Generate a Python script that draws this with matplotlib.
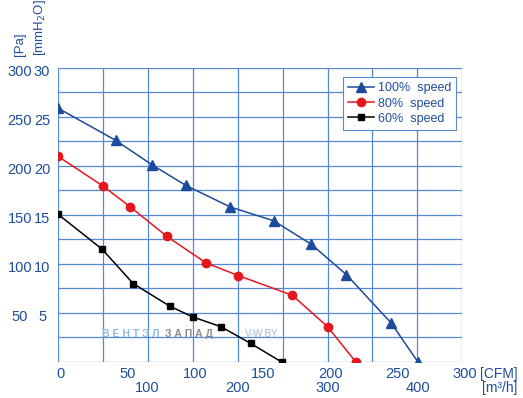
import matplotlib
matplotlib.use('Agg')
import matplotlib.pyplot as plt
from matplotlib.transforms import blended_transform_factory

plt.rcParams['font.family'] = ['Liberation Sans', 'DejaVu Sans']

# flow in CFM, static pressure in Pa
cfm_100 = [0, 43, 70, 95, 128, 160, 188, 214, 247, 267]
pa_100 = [259, 226, 201, 180, 158, 144, 120, 89, 40, 0]

cfm_80 = [0, 34, 54, 81, 110, 134, 174, 200, 221]
pa_80 = [210, 179, 158, 128, 101, 88, 68, 36, 0]

cfm_60 = [0, 33, 56, 83, 100, 121, 143, 166]
pa_60 = [151, 115, 80, 57, 46, 36, 19, 0]

cfm_ticks = [0, 50, 100, 150, 200, 250, 300]
m3h_ticks = ['100', '200', '300', '400']
m3h_grid_pos = [66.7, 133.3, 200.0, 266.7]   # sits on every second grid line
pa_ticks = [50, 100, 150, 200, 250, 300]
mm_ticks = ['5', '10', '15', '20', '25', '30']

BLUE_TXT = '#1f4e9e'
GRID = '#5589d3'

fig = plt.figure(figsize=(5.23, 3.98), dpi=100)
ax = fig.add_axes([0.110, 0.0905, 0.7743, 0.7394])
ax.set_xlim(0, 300)
ax.set_ylim(0, 300)

for i in range(10):
    ax.axvline(i * 300 / 9, color=GRID, lw=0.9, zorder=1)
for i in range(13):
    ax.axhline(i * 25, color=GRID, lw=0.9, zorder=1)
for s in ax.spines.values():
    s.set_visible(False)
ax.set_xticks([])
ax.set_yticks([])

# watermark
ax.text(0.109, 0.095, 'В Е Н Т Э Л', transform=ax.transAxes, color='#8db8e3',
        fontsize=7.5, fontweight='bold', va='center', ha='left', zorder=2)
ax.text(0.265, 0.095, 'З А П А Д', transform=ax.transAxes, color='#8c8c8c',
        fontsize=7.5, fontweight='bold', va='center', ha='left', zorder=2)
ax.text(0.462, 0.095, 'V-W.BY', transform=ax.transAxes, color='#a0b8d8',
        fontsize=7, va='center', ha='left', zorder=2)

ax.plot(cfm_100, pa_100, color='#1c4a9c', lw=1.1, marker='^', ms=6.5,
        label='100%  speed', zorder=5, clip_on=True)
ax.plot(cfm_80, pa_80, color='#e5161e', lw=1.1, marker='o', ms=6,
        label='80%  speed', zorder=5, clip_on=True)
ax.plot(cfm_60, pa_60, color='black', lw=1.1, marker='s', ms=5,
        label='60%  speed', zorder=5, clip_on=True)

leg = ax.legend(loc='upper left', bbox_to_anchor=(0.704, 0.967), fontsize=9,
                frameon=True, fancybox=False, edgecolor=GRID, framealpha=1,
                handlelength=2.1, handletextpad=0.3, labelspacing=0.25,
                borderpad=0.4, borderaxespad=0)
leg.get_frame().set_linewidth(0.8)
for t in leg.get_texts():
    t.set_color(BLUE_TXT)

# x tick labels, two rows
xt = blended_transform_factory(ax.transData, ax.transAxes)
for v in cfm_ticks:
    ax.text(v + 2, -0.04, str(v), transform=xt, ha='center', va='center',
            fontsize=10.5, color=BLUE_TXT)
for v, lab in zip(m3h_grid_pos, m3h_ticks):
    ax.text(v, -0.09, lab, transform=xt, ha='center', va='center',
            fontsize=10.5, color=BLUE_TXT)
ax.text(1.135, -0.04, '[CFM]', transform=ax.transAxes, ha='right', va='center',
        fontsize=10, color=BLUE_TXT)
ax.text(1.135, -0.09, '[m³/h]', transform=ax.transAxes, ha='right', va='center',
        fontsize=10, color=BLUE_TXT)

# y tick labels, two columns
yt = blended_transform_factory(ax.transAxes, ax.transData)
for v, lab in zip(pa_ticks, mm_ticks):
    ax.text(-0.093, v - 4, str(v), transform=yt, ha='center', va='center',
            fontsize=10.5, color=BLUE_TXT)
    ax.text(-0.038, v - 4, lab, transform=yt, ha='center', va='center',
            fontsize=10.5, color=BLUE_TXT)

fig.text(20 / 523, 1 - 56 / 398, '[Pa]', rotation=90, ha='center', va='bottom',
         fontsize=9.5, color=BLUE_TXT)
fig.text(40 / 523, 1 - 56 / 398, '[mmH$_2$O]', rotation=90, ha='center',
         va='bottom', fontsize=9.5, color=BLUE_TXT)

fig.savefig('out.png', dpi=100)
